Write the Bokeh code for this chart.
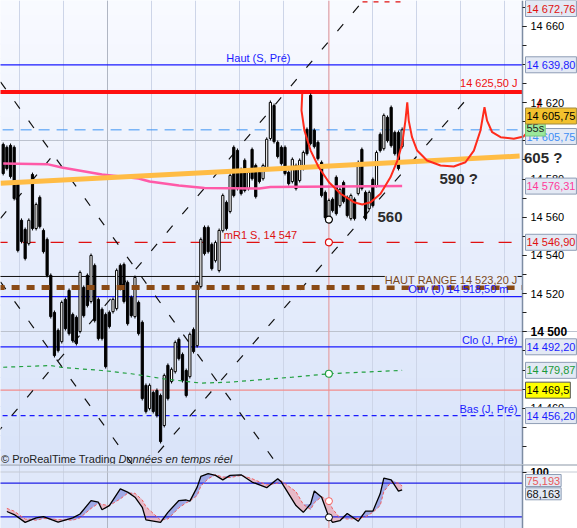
import numpy as np
from bokeh.plotting import figure
from bokeh.models import Range1d, FixedTicker, Label, Span, Grid, LinearAxis
from bokeh.layouts import column
from bokeh.embed import file_html
from bokeh.resources import INLINE

# ---------------- data ----------------
bar_open = [14598.1, 14596.6, 14597.6, 14596.6, 14578.2, 14558.4, 14553.6, 14546.2, 14582.4, 14554.1,
            14570.4, 14553.1, 14548.4, 14529.6, 14510.2, 14500.8, 14494.9, 14517.0, 14521.7, 14509.1,
            14507.6, 14500.2, 14523.3, 14529.6, 14515.9, 14534.8, 14517.0, 14511.8, 14509.1, 14510.2,
            14510.6, 14512.2, 14534.8, 14535.3, 14525.9, 14518.1, 14508.0, 14515.4, 14505.0, 14472.0,
            14459.9, 14468.3, 14469.4, 14466.7, 14451.0, 14482.5, 14474.0, 14479.2, 14496.1, 14488.2,
            14479.8, 14476.6, 14501.3, 14492.8, 14523.7, 14554.7, 14554.7, 14545.8, 14537.3, 14532.1,
            14553.0, 14567.8, 14563.0, 14596.6, 14595.0, 14585.0, 14589.8, 14575.0, 14595.5, 14587.1,
            14583.5, 14580.2, 14585.5, 14601.2, 14618.5, 14599.2, 14596.6, 14596.6, 14583.5, 14578.7,
            14587.1, 14579.2, 14585.5, 14606.0, 14623.8, 14605.5, 14599.2, 14588.7, 14573.0, 14559.8,
            14569.4, 14580.9, 14566.1, 14578.2, 14570.4, 14559.3, 14569.4, 14572.4, 14595.5, 14573.0,
            14564.5, 14579.8, 14576.6, 14603.4, 14595.9, 14612.3, 14617.5, 14604.4, 14604.4, 14597.0]
bar_high = [14599.1, 14597.6, 14598.6, 14597.6, 14579.2, 14559.4, 14554.6, 14559.4, 14583.4, 14567.7,
            14571.4, 14554.1, 14549.4, 14530.6, 14511.2, 14501.8, 14516.4, 14518.0, 14522.7, 14510.1,
            14508.6, 14532.1, 14524.3, 14530.6, 14541.0, 14535.8, 14518.0, 14512.8, 14510.1, 14511.2,
            14518.0, 14533.2, 14535.8, 14536.3, 14526.9, 14519.1, 14529.5, 14516.4, 14506.0, 14473.0,
            14473.0, 14469.3, 14470.4, 14467.7, 14478.2, 14483.5, 14481.4, 14495.5, 14497.1, 14489.2,
            14480.8, 14499.7, 14502.3, 14526.9, 14549.4, 14555.7, 14555.7, 14546.8, 14547.8, 14554.1,
            14572.4, 14568.8, 14582.9, 14597.6, 14596.0, 14586.0, 14590.8, 14584.5, 14596.5, 14588.1,
            14584.5, 14588.1, 14601.8, 14621.1, 14619.5, 14600.2, 14597.6, 14597.6, 14584.5, 14591.3,
            14588.1, 14590.8, 14594.9, 14607.0, 14624.8, 14606.5, 14600.2, 14589.7, 14574.0, 14569.8,
            14570.4, 14581.9, 14575.6, 14579.2, 14571.4, 14572.4, 14570.4, 14589.7, 14596.5, 14574.0,
            14574.0, 14580.8, 14594.9, 14604.4, 14614.3, 14613.3, 14618.5, 14605.4, 14605.4, 14607.0]
bar_low = [14581.9, 14584.5, 14580.3, 14568.8, 14541.6, 14546.3, 14537.4, 14545.2, 14553.1, 14553.1,
           14554.1, 14541.0, 14528.5, 14507.0, 14486.6, 14489.2, 14493.9, 14500.7, 14498.1, 14494.4,
           14492.9, 14499.2, 14507.5, 14512.8, 14514.9, 14504.9, 14495.5, 14495.5, 14480.8, 14501.8,
           14509.6, 14511.2, 14521.7, 14514.9, 14503.3, 14507.5, 14507.0, 14498.1, 14464.1, 14457.3,
           14458.9, 14457.3, 14455.2, 14441.6, 14450.0, 14464.1, 14473.0, 14478.2, 14485.0, 14473.5,
           14465.7, 14475.6, 14488.7, 14491.8, 14522.7, 14540.0, 14541.0, 14532.1, 14536.3, 14531.1,
           14552.0, 14553.1, 14562.0, 14570.4, 14574.0, 14571.4, 14573.0, 14574.0, 14579.2, 14569.8,
           14577.7, 14579.2, 14584.5, 14600.2, 14598.6, 14590.8, 14587.1, 14581.9, 14576.6, 14577.7,
           14574.0, 14578.2, 14584.5, 14592.3, 14597.6, 14596.0, 14589.7, 14570.4, 14558.8, 14558.8,
           14562.5, 14560.9, 14565.1, 14567.2, 14559.9, 14558.3, 14558.3, 14571.4, 14574.0, 14558.3,
           14563.5, 14565.1, 14575.6, 14593.9, 14594.9, 14599.1, 14596.5, 14592.3, 14584.5, 14596.0]
bar_close = [14582.9, 14585.5, 14581.3, 14569.8, 14542.6, 14547.3, 14538.4, 14558.4, 14554.1, 14566.7,
             14555.1, 14542.0, 14529.5, 14508.0, 14487.6, 14490.2, 14515.4, 14501.7, 14499.1, 14495.4,
             14493.9, 14531.1, 14508.5, 14513.8, 14540.0, 14505.9, 14496.5, 14496.5, 14481.8, 14502.8,
             14517.0, 14532.2, 14522.7, 14515.9, 14504.3, 14508.5, 14528.5, 14499.1, 14465.1, 14458.3,
             14472.0, 14458.3, 14456.2, 14442.6, 14477.2, 14465.1, 14480.4, 14494.5, 14486.0, 14474.5,
             14466.7, 14498.7, 14489.7, 14525.9, 14548.4, 14541.0, 14542.0, 14533.1, 14546.8, 14553.1,
             14571.4, 14554.1, 14581.9, 14571.4, 14575.0, 14572.4, 14574.0, 14583.5, 14580.2, 14570.8,
             14578.7, 14587.1, 14600.8, 14620.1, 14599.6, 14591.8, 14588.1, 14582.9, 14577.6, 14590.3,
             14575.0, 14589.8, 14593.9, 14593.3, 14598.6, 14597.0, 14590.7, 14571.4, 14559.8, 14568.8,
             14563.5, 14561.9, 14574.6, 14568.2, 14560.9, 14571.4, 14559.3, 14588.7, 14575.0, 14559.3,
             14573.0, 14566.1, 14593.9, 14594.9, 14613.3, 14600.1, 14597.5, 14593.3, 14585.5, 14605.75]

ma_pink_bar = [0, 12, 16, 27, 37, 40, 48, 55, 70, 73, 109]
ma_pink_val = [14588.1, 14587.8, 14586.0, 14582.4, 14580.3, 14578.7, 14576.6, 14575.3, 14575.0, 14575.8, 14576.31]
ma_green_bar = [0, 13, 16, 27, 35, 44, 54, 62, 79, 89, 109]
ma_green_val = [14481.5, 14482.4, 14481.4, 14479.8, 14478.1, 14475.4, 14473.2, 14473.7, 14476.3, 14478.1, 14479.87]

# horizontal levels: value, colour, width, dash
level_val = [14639.80, 14625.50, 14605.75, 14546.90, 14529.0, 14518.50, 14492.20, 14469.5, 14456.20]
level_col = ["#1a1aff", "#ff1010", "#3d95f5", "#e01010", "#111111", "#1a1aff", "#1a1aff", "#f28c8c", "#1a1aff"]
level_w = [1.2, 4, 1, 1.2, 1, 1.2, 1.2, 1.2, 1.2]
level_dash = ["solid", "solid", "11 7", "13 15", "solid", "solid", "solid", "solid", "5 4"]
range_high = 14523.20
top_level = 14672.76

trend_bar = [-0.74, 141.1]
trend_val = [14577.8, 14592.0]

# dashed diagonal lines: bar0, val0, bar1, val1
diag_b0 = [-0.74, -0.74, -10.4, 38.0, -0.74]
diag_v0 = [14630.9, 14526.2, 14427.4, 14427.4, 14559.4]
diag_b1 = [76.1, 36.5, 98.4, 128.2, 12.9]
diag_v1 = [14427.4, 14427.4, 14673.45, 14625.3, 14590.8]

curve_bar = [81.7, 81.5, 82.3, 84.0, 86.2, 89.0, 92.2, 95.8, 98.1, 100.4, 103.1, 105.8, 107.7, 109.0,
             109.9, 110.4, 110.8, 111.7, 113.1, 115.8, 119.5, 123.1, 126.3, 128.6, 130.4, 131.5, 132.2,
             133.6, 135.9, 139.5, 142.2, 144.5, 145.9, 146.8]
curve_val = [14624.6, 14615.9, 14605.4, 14594.9, 14586.2, 14578.3, 14572.3, 14567.9, 14566.7, 14567.9,
             14572.3, 14580.9, 14589.7, 14598.4, 14610.6, 14620.2, 14610.6, 14601.9, 14594.9, 14589.7,
             14587.1, 14586.6, 14588.8, 14594.9, 14605.4, 14617.6, 14610.6, 14604.5, 14601.9, 14601.1,
             14602.3, 14607.1, 14615.9, 14622.0]

osc_bar = [1, 3, 6, 9, 11, 15, 19, 21, 24, 26, 27, 29, 32, 34, 36, 38, 39, 43, 45, 48,
           50, 51, 53, 54, 56, 58, 60, 62, 65, 68, 72, 75, 76, 80, 82, 84, 85, 87, 89, 90,
           92, 94, 97, 99, 101, 103, 104, 106, 108, 109]
osc_k = [29.5, 24, 10, 18, 20.5, 10.5, 18, 25, 49, 46, 32.5, 40, 70, 64, 55, 37, 14.6, 10, 28, 49,
         50, 48, 73, 92, 97, 94, 86, 94, 95, 82, 72, 88, 82, 40, 28, 43, 66, 55, 19, 10,
         13, 26, 12, 30, 30, 61, 89, 86, 66, 68.163]
osc_d = [35, 30, 16, 14, 17, 15, 14, 18, 35, 44, 42, 40, 52, 62, 62, 50, 38, 14, 16, 36,
         45, 48, 58, 75, 88, 95, 91, 90, 94, 88, 77, 80, 84, 65, 42, 33, 45, 56, 48, 34,
         18, 16, 17, 20, 28, 40, 65, 82, 80, 75.193]

price_ticks = [14660, 14620, 14580, 14560, 14540, 14520, 14460]
cursor_bar = 89

# ---------------- layout helpers (pixel placement of annotations) ----------------
def bx(px):
    return (px - 2.7) / 3.66

def py(ypx):
    return 14673.45 - 0.5234 * ypx

def oy(ypx):
    return (527.5 - ypx) / 0.56

FONT = "Liberation Sans"
AXIS_X = bx(522)
xr = Range1d(bx(0), bx(577))
grid_x = [4.4 + 12.05 * k for k in range(12)]


def lab(fig, text, x, y, color, align="right", size="11px", style="normal", **kw):
    fig.add_layout(Label(x=x, y=y, text=text, text_align=align, text_baseline="middle",
                         text_color=color, text_font=FONT, text_font_size=size,
                         text_font_style=style, **kw))


def price_axis(fig, ticks, minor, overrides, bold=False):
    ax = LinearAxis(fixed_location=AXIS_X, ticker=FixedTicker(ticks=ticks, minor_ticks=minor),
                    major_label_overrides=overrides,
                    axis_line_color="#7d8ca3", axis_line_width=1.5,
                    major_tick_line_color="#222222", major_tick_out=4, major_tick_in=0,
                    minor_tick_line_color="#222222", minor_tick_out=4, minor_tick_in=0,
                    major_label_text_font=FONT, major_label_text_font_size="11px",
                    major_label_text_color="black", major_label_standoff=4,
                    major_label_text_font_style="bold" if bold else "normal")
    fig.add_layout(ax, "right")


# ---------------- main price panel ----------------
Y0, Y1 = py(464), py(0)
p = figure(width=577, height=464, x_range=xr, y_range=Range1d(Y0, Y1),
           output_backend="svg", toolbar_location=None, x_axis_location=None,
           y_axis_location=None, min_border_left=0, min_border_right=0,
           min_border_top=0, min_border_bottom=0, background_fill_color="white",
           border_fill_color="white", outline_line_color=None)
for g in p.grid:
    g.visible = False

# background gradient of the chart area
nb = 32
edges = np.linspace(Y0, Y1, nb + 1)
top_rgb = np.array([248, 250, 255]); bot_rgb = np.array([217, 227, 249])
cols = ["#%02x%02x%02x" % tuple(int(round(c)) for c in bot_rgb + (top_rgb - bot_rgb) * (i + 0.5) / nb)
        for i in range(nb)]
p.quad(left=-50, right=AXIS_X, bottom=edges[:-1], top=edges[1:], fill_color=cols, line_color=cols,
       line_width=1, level="image")

p.add_layout(Grid(dimension=0, ticker=FixedTicker(ticks=grid_x), grid_line_color="#cdd5e8"))
p.add_layout(Grid(dimension=1, ticker=FixedTicker(ticks=[14500, 14600]), grid_line_color="#bcc2ce",
                  bounds=(-50, AXIS_X)))
p.add_layout(Span(location=grid_x[2], dimension="height", line_color="#b0b6c3", line_width=1, level="underlay"))
p.add_layout(Span(location=cursor_bar, dimension="height", line_color="#f09a9a", line_width=1, level="underlay"))

# level lines
for v, c, w, d in zip(level_val, level_col, level_w, level_dash):
    p.segment(x0=-10, y0=v, x1=AXIS_X, y1=v, line_color=c, line_width=w, line_dash=d)
p.segment(x0=bx(362), y0=top_level, x1=bx(402), y1=top_level, line_color="#e01010", line_width=1.2,
          line_dash="5 6")

lab(p, "Haut (S, Pré)", bx(290), py(57), "#1a1aff")
lab(p, "14 625,50 J", bx(517), py(82.5), "#ee1111")
lab(p, "mR1 S, 14 547", bx(223.3), py(234.3), "#dd1111", align="left")
lab(p, "HAUT RANGE 14 523,20 J", bx(517), py(279), "#7b4a1e",
    background_fill_color="#e6ecfa", background_fill_alpha=1.0)
lab(p, "Ouv (J) 14 518,50 m", bx(508), py(288.5), "#1a1aff")
lab(p, "Clo (J, Pré)", bx(517), py(339.3), "#1a1aff")
lab(p, "Bas (J, Pré)", bx(517), py(408.3), "#1a1aff")

# dashed diagonals
p.segment(x0=diag_b0, y0=diag_v0, x1=diag_b1, y1=diag_v1, line_color="#111111",
          line_width=1.2, line_dash="9 15")

# candles
idx = np.arange(len(bar_open))
o = np.array(bar_open); c = np.array(bar_close)
up = c >= o
p.segment(x0=idx, y0=bar_low, x1=idx, y1=bar_high, line_color="black", line_width=1)
p.vbar(x=idx, top=np.maximum(o, c), bottom=np.minimum(o, c), width=0.6,
       fill_color=["white" if u else "black" for u in up], line_color="black", line_width=1)

# HAUT RANGE thick brown dashes
p.segment(x0=-10, y0=range_high, x1=AXIS_X, y1=range_high, line_color="#8a4b16", line_width=5,
          line_dash="8 7")

# moving averages
p.line(ma_pink_bar, ma_pink_val, line_color="#ff5aa8", line_width=2.5)
p.line(ma_green_bar, ma_green_val, line_color="#22a040", line_width=1.2, line_dash="4 4")

# trendline and projection curve
p.line(trend_bar, trend_val, line_color="#ffbc45", line_width=5)
p.line(curve_bar, curve_val, line_color="#ff2b1c", line_width=2)

# cursor markers
p.scatter([cursor_bar], [bar_low[cursor_bar]], size=7, fill_color="white", line_color="black", line_width=1.2)
p.scatter([cursor_bar], [level_val[3]], size=7, fill_color="white", line_color="#e01010", line_width=1.2)
p.scatter([cursor_bar], [ma_green_val[9]], size=7, fill_color="white", line_color="#22a040", line_width=1.2)

lab(p, "590 ?", bx(439), py(177.5), "#2b2b2b", align="left", size="15px", style="bold")
lab(p, "560", bx(377), py(216), "#2b2b2b", align="left", size="15px", style="bold")
lab(p, "© ProRealTime Trading", bx(0.5), py(458), "#222222", align="left")
lab(p, "Données en temps réel", bx(118), py(458), "#222222", align="left", style="italic")

# price axis
overr = {t: f"{t // 1000} {t % 1000:03d}" for t in price_ticks}
overr[14500] = " "
price_axis(p, price_ticks + [14500], list(range(14440, 14671, 10)), overr)
lab(p, "14 500", bx(530), 14500, "black", align="left", size="12px", style="bold")
lab(p, "605 ?", bx(523.5), py(156.7), "#2b2b2b", align="left", size="15px", style="bold")

# price tags on the axis (top one nudged down so that it stays readable)
tag_text = ["14 672,76", "14 639,80", "14 605,75", "55s", "14 605,75", "14 576,31", "14 546,90",
            "14 492,20", "14 479,87", "14 469,5", "14 456,20"]
tag_y = [py(8), 14639.80, py(136), py(127.5), py(115.5), 14576.31, 14546.90, 14492.20, 14479.87,
         14469.5, 14456.20]
tag_col = ["#e01010", "#1b1bff", "#3f8ef5", "#222222", "#000000", "#ff3b9b", "#e01010", "#1b1bff",
           "#1a9a3a", "#000000", "#1b1bff"]
tag_fill = ["#e3e9f4", "#e3e9f4", "#e3e9f4", "#9be89b", "#f2c12e", "#e3e9f4", "#e3e9f4", "#e3e9f4",
            "#e3e9f4", "#ffff00", "#e3e9f4"]
tag_border = ["#8e9db5", "#8e9db5", "#8e9db5", "#78c878", "#a08a40", "#8e9db5", "#8e9db5", "#8e9db5",
              "#8e9db5", "#555555", "#8e9db5"]
for t, y, tc, fc, bc in zip(tag_text, tag_y, tag_col, tag_fill, tag_border):
    lab(p, t, bx(525), y, tc, align="left", background_fill_color=fc, background_fill_alpha=1.0,
        border_line_color=bc, border_line_width=1, padding=(1, 2))

# ---------------- oscillator panel ----------------
q = figure(width=577, height=64, x_range=xr, y_range=Range1d(oy(528), oy(464)),
           output_backend="svg", toolbar_location=None, x_axis_location=None,
           y_axis_location=None, min_border_left=0, min_border_right=0,
           min_border_top=0, min_border_bottom=0, background_fill_color="white",
           border_fill_color="white", outline_line_color=None)
for g in q.grid:
    g.visible = False
q.quad(left=-50, right=AXIS_X, bottom=oy(528), top=oy(464), fill_color="#e0e8fa", line_color=None,
       level="image")
q.add_layout(Grid(dimension=0, ticker=FixedTicker(ticks=grid_x), grid_line_color="#cdd5e8"))
q.add_layout(Span(location=grid_x[2], dimension="height", line_color="#b0b6c3", line_width=1, level="underlay"))
q.add_layout(Span(location=cursor_bar, dimension="height", line_color="#f09a9a", line_width=1, level="underlay"))

k = np.array(osc_k); d = np.array(osc_d)
q.varea(x=osc_bar, y1=k, y2=np.maximum(k, d), fill_color="#e6b9c8")
q.varea(x=osc_bar, y1=d, y2=np.maximum(k, d), fill_color="#9fa9e6")
q.segment(x0=-10, y0=[80, 20], x1=AXIS_X, y1=[80, 20], line_color="#1f1fe6", line_width=1.2)
q.segment(x0=-10, y0=100, x1=200, y1=100, line_color="#c5cad4", line_width=1)
q.segment(x0=-10, y0=oy(464.3), x1=200, y1=oy(464.3), line_color="#8b97a8", line_width=1.5)
q.line(osc_bar, osc_d, line_color="#f06060", line_width=1, line_dash="3 2")
q.line(osc_bar, osc_k, line_color="black", line_width=1.3)
q.scatter([cursor_bar], [osc_k[osc_bar.index(cursor_bar)]], size=7, fill_color="white", line_color="black")
q.scatter([cursor_bar], [osc_d[osc_bar.index(cursor_bar)]], size=7, fill_color="white", line_color="#f06060")

price_axis(q, [100], [], {100: "100"}, bold=True)

lab(q, "75,193", bx(525), oy(480), "#e85a5a", align="left", background_fill_color="#e3e9f4",
    background_fill_alpha=1.0, border_line_color="#8e9db5", padding=(1, 2))
lab(q, "68,163", bx(525), oy(493.3), "#111111", align="left", background_fill_color="#e3e9f4",
    background_fill_alpha=1.0, border_line_color="#8e9db5", padding=(1, 2))

layout = column(p, q, spacing=0)
open("out.html", "w").write(file_html(layout, INLINE))
